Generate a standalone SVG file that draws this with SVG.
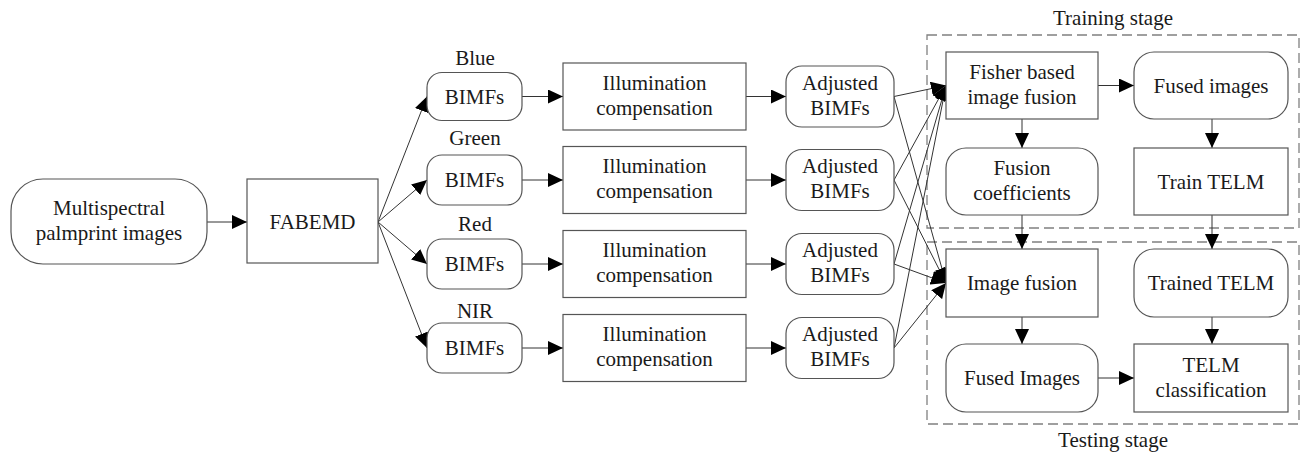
<svg xmlns="http://www.w3.org/2000/svg" width="1304" height="453" viewBox="0 0 1304 453">
  <style>
    .box { fill: #ffffff; stroke: #555555; stroke-width: 1.2; }
    .stage { fill: none; stroke: #808080; stroke-width: 1.3; stroke-dasharray: 10 5; }
    text { font-family: 'Liberation Serif', 'DejaVu Serif', serif; font-size: 21px; fill: #1a1a1a; text-anchor: middle; }
    .edge { fill: none; stroke: #333333; stroke-width: 1; marker-end: url(#arrow); }
  </style>
  <defs>
    <marker id="arrow" markerUnits="userSpaceOnUse" markerWidth="15" markerHeight="14" refX="15" refY="7" orient="auto">
      <path d="M0,0 L15,7 L0,14 Z" fill="#000000"/>
    </marker>
  </defs>
  <rect width="1304" height="453" fill="#ffffff"/>

  <!-- stage frames -->
  <g id="training-stage">
    <rect class="stage" x="927" y="35" width="372" height="193"/>
    <text x="1113" y="25">Training stage</text>
  </g>
  <g id="testing-stage">
    <rect class="stage" x="927" y="242" width="372" height="182"/>
    <text x="1113" y="447">Testing stage</text>
  </g>

  <!-- connectors -->
  <g id="connectors">
    <line class="edge" x1="207" y1="222" x2="247" y2="222"/>
    <line class="edge" x1="378" y1="222" x2="427" y2="96.5"/>
    <line class="edge" x1="378" y1="222" x2="427" y2="180"/>
    <line class="edge" x1="378" y1="222" x2="427" y2="264"/>
    <line class="edge" x1="378" y1="222" x2="427" y2="348"/>

    <line class="edge" x1="522" y1="96.5" x2="563" y2="96.5"/>
    <line class="edge" x1="522" y1="180" x2="563" y2="180"/>
    <line class="edge" x1="522" y1="264" x2="563" y2="264"/>
    <line class="edge" x1="522" y1="348" x2="563" y2="348"/>

    <line class="edge" x1="746" y1="96.5" x2="786" y2="96.5"/>
    <line class="edge" x1="746" y1="180" x2="786" y2="180"/>
    <line class="edge" x1="746" y1="264" x2="786" y2="264"/>
    <line class="edge" x1="746" y1="348" x2="786" y2="348"/>

    <line class="edge" x1="894" y1="96.5" x2="946" y2="85.5"/>
    <line class="edge" x1="894" y1="180" x2="946" y2="85.5"/>
    <line class="edge" x1="894" y1="264" x2="946" y2="85.5"/>
    <line class="edge" x1="894" y1="348" x2="946" y2="85.5"/>
    <line class="edge" x1="894" y1="96.5" x2="946" y2="283"/>
    <line class="edge" x1="894" y1="180" x2="946" y2="283"/>
    <line class="edge" x1="894" y1="264" x2="946" y2="283"/>
    <line class="edge" x1="894" y1="348" x2="946" y2="283"/>

    <line class="edge" x1="1098" y1="85.5" x2="1134" y2="85.5"/>
    <line class="edge" x1="1022" y1="119" x2="1022" y2="148"/>
    <line class="edge" x1="1212" y1="119" x2="1212" y2="148"/>
    <line class="edge" x1="1022" y1="215" x2="1022" y2="249"/>
    <line class="edge" x1="1212" y1="215" x2="1212" y2="249"/>
    <line class="edge" x1="1022" y1="317" x2="1022" y2="344"/>
    <line class="edge" x1="1212" y1="317" x2="1212" y2="344"/>
    <line class="edge" x1="1098" y1="378" x2="1134" y2="378"/>
  </g>

  <!-- source -->
  <g id="multispectral">
    <rect class="box" x="11" y="179" width="196" height="85" rx="32"/>
    <text x="109" y="215">Multispectral</text>
    <text x="109" y="240">palmprint images</text>
  </g>
  <g id="fabemd">
    <rect class="box" x="247" y="179" width="131" height="84"/>
    <text x="312.5" y="229">FABEMD</text>
  </g>

  <!-- per-band BIMFs -->
  <g id="bimfs-blue">
    <text x="475" y="65">Blue</text>
    <rect class="box" x="427" y="72.5" width="95" height="48" rx="15"/>
    <text x="474.5" y="103.5">BIMFs</text>
  </g>
  <g id="bimfs-green">
    <text x="475" y="145">Green</text>
    <rect class="box" x="427" y="155" width="95" height="50" rx="15"/>
    <text x="474.5" y="187">BIMFs</text>
  </g>
  <g id="bimfs-red">
    <text x="475" y="231">Red</text>
    <rect class="box" x="427" y="239" width="95" height="50" rx="15"/>
    <text x="474.5" y="271">BIMFs</text>
  </g>
  <g id="bimfs-nir">
    <text x="475" y="318">NIR</text>
    <rect class="box" x="427" y="323" width="95" height="50" rx="15"/>
    <text x="474.5" y="355">BIMFs</text>
  </g>

  <!-- illumination compensation -->
  <g id="illum-blue">
    <rect class="box" x="563" y="63" width="183" height="67"/>
    <text x="654.5" y="89.5">Illumination</text>
    <text x="654.5" y="114.5">compensation</text>
  </g>
  <g id="illum-green">
    <rect class="box" x="563" y="146.5" width="183" height="67"/>
    <text x="654.5" y="173">Illumination</text>
    <text x="654.5" y="198">compensation</text>
  </g>
  <g id="illum-red">
    <rect class="box" x="563" y="230.5" width="183" height="67"/>
    <text x="654.5" y="257">Illumination</text>
    <text x="654.5" y="282">compensation</text>
  </g>
  <g id="illum-nir">
    <rect class="box" x="563" y="314.5" width="183" height="67"/>
    <text x="654.5" y="341">Illumination</text>
    <text x="654.5" y="366">compensation</text>
  </g>

  <!-- adjusted BIMFs -->
  <g id="adjusted-blue">
    <rect class="box" x="786" y="66" width="108" height="61" rx="16"/>
    <text x="840" y="89.5">Adjusted</text>
    <text x="840" y="114.5">BIMFs</text>
  </g>
  <g id="adjusted-green">
    <rect class="box" x="786" y="149.5" width="108" height="61" rx="16"/>
    <text x="840" y="173">Adjusted</text>
    <text x="840" y="198">BIMFs</text>
  </g>
  <g id="adjusted-red">
    <rect class="box" x="786" y="233.5" width="108" height="61" rx="16"/>
    <text x="840" y="257">Adjusted</text>
    <text x="840" y="282">BIMFs</text>
  </g>
  <g id="adjusted-nir">
    <rect class="box" x="786" y="317.5" width="108" height="61" rx="16"/>
    <text x="840" y="341">Adjusted</text>
    <text x="840" y="366">BIMFs</text>
  </g>

  <!-- training stage -->
  <g id="fisher-fusion">
    <rect class="box" x="946" y="52" width="152" height="67"/>
    <text x="1022" y="79">Fisher based</text>
    <text x="1022" y="104">image fusion</text>
  </g>
  <g id="fused-images-train">
    <rect class="box" x="1134" y="52" width="154" height="67" rx="20"/>
    <text x="1211" y="93">Fused images</text>
  </g>
  <g id="fusion-coefficients">
    <rect class="box" x="946" y="148" width="152" height="67" rx="20"/>
    <text x="1022" y="175">Fusion</text>
    <text x="1022" y="200">coefficients</text>
  </g>
  <g id="train-telm">
    <rect class="box" x="1134" y="148" width="154" height="67"/>
    <text x="1211" y="189">Train TELM</text>
  </g>

  <!-- testing stage -->
  <g id="image-fusion">
    <rect class="box" x="946" y="249" width="152" height="68"/>
    <text x="1022" y="290">Image fusion</text>
  </g>
  <g id="trained-telm">
    <rect class="box" x="1134" y="249" width="154" height="68" rx="20"/>
    <text x="1211" y="290">Trained TELM</text>
  </g>
  <g id="fused-images-test">
    <rect class="box" x="946" y="344" width="152" height="68" rx="20"/>
    <text x="1022" y="385">Fused Images</text>
  </g>
  <g id="telm-classification">
    <rect class="box" x="1134" y="344" width="154" height="68"/>
    <text x="1211" y="372">TELM</text>
    <text x="1211" y="397">classification</text>
  </g>
</svg>
